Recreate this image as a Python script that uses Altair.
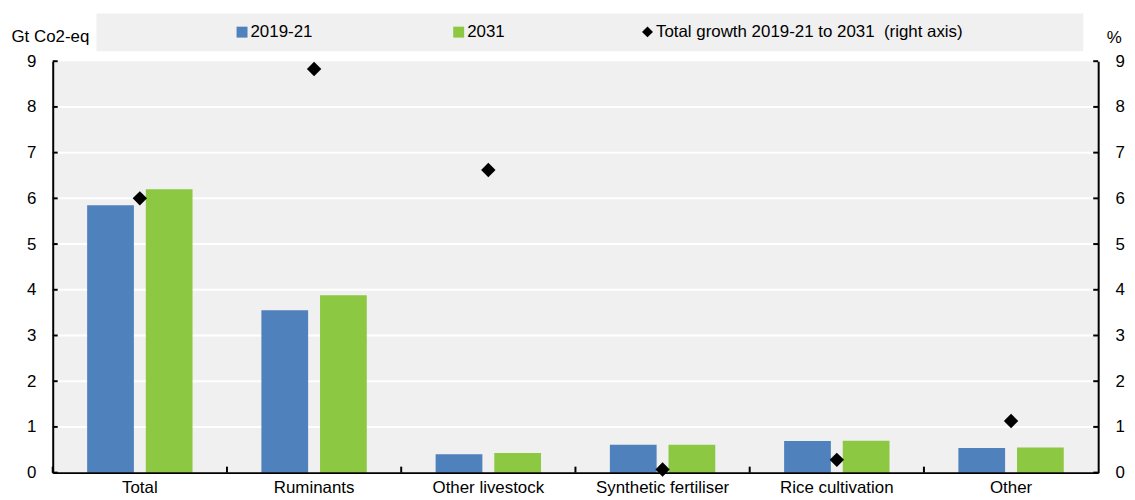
import altair as alt
import pandas as pd

# ---- data ----
categories = ["Total", "Ruminants", "Other livestock", "Synthetic fertiliser", "Rice cultivation", "Other"]
series_names = ["2019-21", "2031"]
values_2019_21 = [5.85, 3.55, 0.40, 0.61, 0.69, 0.54]
values_2031 = [6.20, 3.88, 0.43, 0.61, 0.70, 0.55]
growth_pct = [6.00, 8.83, 6.62, 0.07, 0.28, 1.13]
growth_name = "Total growth 2019-21 to 2031 \u00a0(right axis)"
tick_values = [0, 1, 2, 3, 4, 5, 6, 7, 8, 9]
grid_values = [1, 2, 3, 4, 5, 6, 7, 8]

FONT = "Liberation Sans, Arial, sans-serif"
FS = 17
BLUE = "#4f81bd"
GREEN = "#8cc841"
BG = "#f0f0f0"
W, H = 1052, 414

bars_df = pd.DataFrame(
    [{"cat": c, "series": series_names[0], "value": v} for c, v in zip(categories, values_2019_21)]
    + [{"cat": c, "series": series_names[1], "value": v} for c, v in zip(categories, values_2031)]
)
growth_df = pd.DataFrame({"cat": categories, "growth": growth_pct, "name": growth_name})
ticks_df = pd.DataFrame({"t": tick_values})
grid_df = pd.DataFrame({"t": grid_values})
cats_df = pd.DataFrame({"cat": categories})
band_df = pd.DataFrame({"k": [0]})

yscale = alt.Scale(domain=[0, 9], nice=False, zero=True)
xscale = alt.Scale(domain=categories, paddingInner=0, paddingOuter=0)

x_axis = alt.Axis(
    labelAngle=0, ticks=False, domain=True, domainColor="black", domainWidth=2,
    labelFont=FONT, labelFontSize=FS, labelColor="black", labelPadding=7,
    grid=False, zindex=1, labelLimit=0,
)

legend_band = alt.Chart(band_df).mark_rect(color=BG).encode(
    x=alt.value(44), x2=alt.value(1037), y=alt.value(-48), y2=alt.value(-10)
)

grid = alt.Chart(grid_df).mark_rule(color="white", strokeWidth=2).encode(
    y=alt.Y("t:Q", scale=yscale, axis=None),
    x=alt.value(0), x2=alt.value(W),
)

bars = alt.Chart(bars_df).mark_bar().encode(
    x=alt.X("cat:N", scale=xscale, sort=categories, title=None, axis=x_axis),
    xOffset=alt.XOffset(
        "series:N", sort=series_names,
        scale=alt.Scale(domain=series_names, paddingInner=0.203, paddingOuter=0.587),
    ),
    y=alt.Y(
        "value:Q", scale=yscale, title="Gt Co2-eq",
        axis=alt.Axis(
            orient="left", values=tick_values, grid=False, ticks=False,
            domain=True, domainColor="black", domainWidth=2,
            labelFont=FONT, labelFontSize=FS, labelColor="black", labelPadding=17,
            titleAngle=0, titleAlign="left", titleBaseline="alphabetic",
            titleX=-42, titleY=-20, titleFont=FONT, titleFontSize=FS,
            titleFontWeight="normal", titleColor="black", zindex=1,
        ),
    ),
    color=alt.Color(
        "series:N",
        scale=alt.Scale(domain=series_names, range=[BLUE, GREEN]),
        legend=alt.Legend(
            title=None, orient="none", direction="horizontal",
            legendX=182, legendY=-38, symbolType="square", symbolSize=121,
            symbolStrokeWidth=0, labelFont=FONT, labelFontSize=FS, labelColor="black",
            labelOffset=0, columnPadding=138, padding=0, labelLimit=0,
        ),
    ),
)

points = alt.Chart(growth_df).mark_point(filled=True, size=210, color="black", opacity=1).encode(
    x=alt.X("cat:N", scale=xscale, sort=categories, title=None, axis=x_axis),
    y=alt.Y(
        "growth:Q", scale=yscale, title="%",
        axis=alt.Axis(
            orient="right", values=tick_values, grid=False, ticks=False,
            domain=True, domainColor="black", domainWidth=2,
            labelFont=FONT, labelFontSize=FS, labelColor="black", labelPadding=17,
            titleAngle=0, titleAlign="left", titleBaseline="alphabetic",
            titleX=8, titleY=-19, titleFont=FONT, titleFontSize=FS,
            titleFontWeight="normal", titleColor="black", zindex=1,
        ),
    ),
    shape=alt.Shape(
        "name:N",
        scale=alt.Scale(domain=[growth_name], range=["diamond"]),
        legend=alt.Legend(
            title=None, orient="none", legendX=590, legendY=-38, symbolSize=121,
            symbolFillColor="black", symbolStrokeWidth=0, labelFont=FONT,
            labelFontSize=FS, labelColor="black", labelOffset=0, padding=0,
            labelLimit=0,
        ),
    ),
)

left_ticks = alt.Chart(ticks_df).mark_rule(color="black", strokeWidth=2).encode(
    y=alt.Y("t:Q", scale=yscale, axis=None), x=alt.value(0), x2=alt.value(5)
)
right_ticks = alt.Chart(ticks_df).mark_rule(color="black", strokeWidth=2).encode(
    y=alt.Y("t:Q", scale=yscale, axis=None), x=alt.value(W - 5), x2=alt.value(W)
)
x_ticks = alt.Chart(cats_df).mark_rule(color="black", strokeWidth=2).encode(
    x=alt.X("cat:N", scale=xscale, sort=categories, title=None, axis=x_axis, bandPosition=0),
    y=alt.value(H - 6), y2=alt.value(H),
)

chart = (
    alt.layer(legend_band, grid, bars, points, left_ticks, right_ticks, x_ticks)
    .resolve_scale(y="independent")
    .properties(
        width=W, height=H,
        padding={"left": 45, "top": 52, "right": 29, "bottom": 26},
        autosize=alt.AutoSizeParams(type="none"),
        background="white",
    )
    .configure_view(fill=BG, stroke=None)
)

chart.save("out.html", embed_options={"renderer": "svg", "actions": False})
